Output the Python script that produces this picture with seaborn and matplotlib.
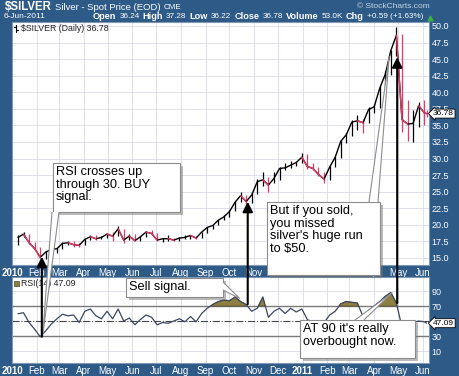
import numpy as np
import pandas as pd
import seaborn as sns
import matplotlib.pyplot as plt
import matplotlib.dates as mdates
import matplotlib.patheffects as pe
from matplotlib.patches import Rectangle, Polygon

sns.set_theme(style='white')
plt.rcParams['font.family'] = ['Liberation Sans', 'DejaVu Sans']

# weekly bars (Fridays) + last session
week_end = pd.date_range('2010-01-08', periods=74, freq='7D').append(pd.DatetimeIndex(['2011-06-06']))
close = [18.1, 18.6, 17.3, 16.4, 15.1, 15.9, 16.3, 16.4, 17.2, 17.3,
         17.0, 16.9, 17.8, 18.2, 17.9, 18.1, 18.6, 18.3, 19.4, 17.7,
         18.3, 17.6, 18.2, 18.9, 18.7, 17.7, 17.9, 17.9, 17.7, 18.0,
         18.1, 18.4, 18.0, 18.9, 19.6, 19.9, 20.7, 21.2, 22.0, 23.4,
         24.4, 23.5, 24.5, 26.5, 26.8, 26.0, 27.0, 28.5, 28.6, 29.0,
         29.4, 30.2, 28.8, 28.5, 27.6, 26.9, 28.7, 30.2, 32.6, 33.6,
         35.5, 35.7, 35.4, 37.4, 37.8, 40.6, 42.7, 46.3, 48.6, 35.9,
         35.2, 35.3, 38.0, 36.9, 36.78]
high = [18.4, 18.9, 18.6, 17.4, 16.6, 16.0, 16.5, 16.5, 17.4, 17.6,
        17.6, 17.2, 17.9, 18.4, 18.5, 18.3, 18.7, 18.9, 19.8, 19.3,
        18.6, 18.6, 18.3, 19.0, 19.2, 18.8, 18.0, 18.5, 18.0, 18.1,
        18.4, 18.5, 18.3, 18.9, 19.7, 20.0, 20.8, 21.5, 22.2, 23.6,
        24.9, 24.5, 24.9, 26.9, 28.0, 27.2, 28.0, 28.8, 29.3, 29.6,
        29.5, 30.9, 30.7, 29.3, 28.8, 28.0, 28.9, 30.4, 32.8, 33.9,
        35.8, 36.5, 36.0, 37.8, 38.2, 40.9, 43.2, 46.4, 49.8, 48.8,
        38.9, 37.3, 38.6, 38.9, 37.28]
low = [17.0, 18.1, 17.1, 16.2, 15.0, 14.9, 15.7, 15.8, 16.3, 17.0,
       16.7, 16.7, 16.9, 17.7, 17.7, 17.8, 18.0, 17.6, 18.3, 17.3,
       17.7, 17.5, 17.6, 18.1, 18.5, 17.6, 17.4, 17.6, 17.5, 17.6,
       17.9, 17.9, 17.9, 18.0, 18.8, 19.4, 19.9, 20.7, 21.2, 22.1,
       23.4, 23.0, 23.3, 24.6, 25.8, 25.0, 26.3, 26.8, 28.2, 28.5,
       28.9, 29.3, 28.4, 28.2, 27.4, 26.3, 26.8, 28.8, 30.1, 32.3,
       33.4, 34.3, 33.8, 35.4, 36.8, 37.6, 40.4, 42.6, 45.4, 34.0,
       32.6, 32.5, 34.8, 35.1, 36.22]
rsi = [59.7, 61, 48, 39, 29, 37, 46, 53, 59, 57,
       58, 48, 63, 66, 57, 53, 63, 53, 66, 50,
       54, 45, 52, 58, 55, 45, 48, 47, 50, 53,
       49, 56, 49, 60, 67, 72, 76, 78, 77, 82,
       76, 72, 63, 67, 82, 55, 63, 67, 60, 67,
       62, 66, 52, 48, 50, 48, 58, 63, 73, 76,
       75, 74, 56, 64, 70, 76, 83, 88, 74, 42,
       46, 48, 50, 49, 47.09]

month_starts = pd.date_range('2010-01-01', '2011-06-01', freq='MS')
month_labels = [str(d.year) if d.month == 1 else d.strftime('%b') for d in month_starts]
price_ticks = np.arange(15, 50.1, 2.5)
rsi_ticks = [10, 30, 70, 90]

# arrows: date, price at head, rsi at tail
arrow_dates = pd.to_datetime(['2010-02-07', '2010-10-24', '2011-04-30'])
arrow_price = [15.2, 23.5, 45.3]
arrow_rsi = [29, 72.5, 74]

bg = '#2d5a87'
red = '#e23c66'
olive = '#8f8042'
gridc = '#dadbe8'
W, H = 460, 376

fig = plt.figure(figsize=(4.6, 3.76), dpi=100, facecolor=bg)
ax = fig.add_axes([12 / W, 1 - 265 / H, 417 / W, 243 / H])
ax2 = fig.add_axes([12 / W, 1 - 363 / H, 417 / W, 86 / H])

# price bars
for i in range(len(close)):
    col = 'black' if i == 0 or close[i] >= close[i - 1] else red
    ax.vlines(week_end[i], low[i], high[i], color=col, lw=0.9)
sns.lineplot(x=week_end, y=close, color='black', lw=1.0, ax=ax)
for i in range(1, len(close)):
    if close[i] < close[i - 1]:
        ax.plot(week_end[i - 1:i + 1], close[i - 1:i + 1], color=red, lw=1.0)

# rsi
rsi_arr = np.array(rsi)
ax2.fill_between(week_end, rsi_arr, 70, where=rsi_arr > 70, interpolate=True,
                 facecolor=olive, edgecolor='#4e4620', lw=0.5, zorder=2)
ax2.axhline(70, color='#7a7a7a', lw=1.0, zorder=1)
ax2.axhline(30, color='#7a7a7a', lw=1.0, zorder=1)
ax2.axhline(50, color='#444444', lw=0.8, ls='-.', zorder=1)
sns.lineplot(x=week_end, y=rsi, color='#3c4660', lw=0.9, ax=ax2, zorder=3)

xl = (mdates.date2num(pd.Timestamp('2009-12-31 12:00')), mdates.date2num(pd.Timestamp('2011-06-09')))
for a in (ax, ax2):
    a.set_facecolor('white')
    a.set_xlim(xl)
    a.set(xlabel='', ylabel='')
    a.set_xticks(month_starts)
    a.set_xticklabels(month_labels)
    for t in a.get_xticklabels():
        if t.get_text().isdigit():
            t.set_fontweight('bold')
    a.yaxis.tick_right()
    a.tick_params(colors='white', labelsize=6.5, length=0, pad=2)
    a.tick_params(axis='x', labelsize=7, pad=2)
    a.grid(True, color=gridc, lw=0.6)
    a.set_axisbelow(True)
    for s in a.spines.values():
        s.set_color('#8098b4')
        s.set_linewidth(0.8)

ax.set_ylim(13.94, 50.6)
ax.set_yticks(price_ticks)
ax.set_yticklabels([f'{v:.1f}' for v in price_ticks])
ax2.set_ylim(-6, 108.7)
ax2.set_yticks(rsi_ticks)

# last value tags
ax.annotate(f'{close[-1]:.2f}', xy=(1.0, close[-1]), xycoords=('axes fraction', 'data'),
            xytext=(3, 0), textcoords='offset points', ha='left', va='center', fontsize=6,
            color='black', annotation_clip=False,
            bbox=dict(boxstyle='larrow,pad=0.12', fc='white', ec='black', lw=0.6))
ax2.annotate(f'{rsi[-1]:.2f}', xy=(1.0, rsi[-1]), xycoords=('axes fraction', 'data'),
             xytext=(3, 0), textcoords='offset points', ha='left', va='center', fontsize=6,
             color='black', annotation_clip=False,
             bbox=dict(boxstyle='larrow,pad=0.12', fc='white', ec='black', lw=0.6))

# header
renderer = fig.canvas.get_renderer()


def row(x, y, pieces, color='white'):
    texts = []
    for txt, size, weight in pieces:
        t = fig.text(x / W, 1 - y / H, txt, fontsize=size, fontweight=weight,
                     color=color, va='center', ha='left')
        x = t.get_window_extent(renderer).x1 + 3
        texts.append(t)
    return texts


row(5, 7.5, [(r'\$SILVER', 8.3, 'bold'), ('Silver - Spot Price (EOD)', 6.8, 'normal'),
             ('CME', 5.8, 'normal')])
row(4, 17, [('6-Jun-2011', 6, 'normal')])
pieces = [('Open', 6.6, 'bold'), ('36.24', 5.9, 'normal'), ('High', 6.6, 'bold'),
          ('37.28', 5.9, 'normal'), ('Low', 6.6, 'bold'), ('36.22', 5.9, 'normal'),
          ('Close', 6.6, 'bold'), ('36.78', 5.9, 'normal'), ('Volume', 6.6, 'bold'),
          ('53.0K', 5.9, 'normal'), ('Chg', 6.6, 'bold'), ('+0.59 (+1.63%)', 5.9, 'normal')]
texts = row(0, 16.5, pieces)
shift = (423 - texts[-1].get_window_extent(renderer).x1) / W
for t in texts:
    t.set_x(t.get_position()[0] + shift)
fig.text(430 / W, 1 - 7 / H, '© StockCharts.com', fontsize=6, color='#c9d5e2', ha='right', va='center')

# overlay for callouts
ov = fig.add_axes([0, 0, 1, 1], zorder=10)
ov.set_xlim(0, W)
ov.set_ylim(H, 0)
ov.axis('off')
ov.patch.set_alpha(0)


def to_px(a, d, v):
    px = a.transData.transform((mdates.date2num(pd.Timestamp(d)), v))
    return px[0], H - px[1]


ov.plot([430], [17.5], marker='^', color='#3cb043', ms=3.5)
ov.plot([16, 16], [25, 31.5], color='black', lw=0.8)
ov.plot([14, 16], [27, 27], color='black', lw=0.8)
ov.plot([16, 18], [29.5, 29.5], color='black', lw=0.8)
ov.text(21, 28.5, r'\$SILVER (Daily) 36.78', fontsize=6.3, color='#222222', va='center')
ov.add_patch(Rectangle((14, 281), 5, 5, fc=olive, ec='#4e4620', lw=0.5))
ov.text(21, 283.5, 'RSI(14) 47.09', fontsize=6.3, color='#222222', va='center')

shadow = [pe.SimplePatchShadow(offset=(2, -2), shadow_rgbFace='#777777', alpha=0.5), pe.Normal()]
callouts = [
    ((53, 163, 127, 49), [(52, 212), (59, 212)], to_px(ax2, '2010-02-08', 30),
     'RSI crosses up\nthrough 30. BUY\nsignal.'),
    ((267, 202, 113, 73), [(369, 202), (378, 202)], to_px(ax, '2011-04-20', 45.5),
     "But if you sold,\nyou missed\nsilver's huge run\nto \\$50."),
    ((126, 278, 97, 19), [(223, 282), (223, 290)], to_px(ax2, '2010-10-14', 80),
     'Sell signal.'),
    ((300, 320, 115, 38), [(355, 320), (364, 320)], to_px(ax2, '2011-04-24', 88),
     "AT 90 it's really\noverbought now."),
]
for (x0, y0, w, h), base, tip, txt in callouts:
    r = Rectangle((x0, y0), w, h, fc='white', ec='#8c8c8c', lw=0.8, zorder=5)
    r.set_path_effects(shadow)
    ov.add_patch(r)
    ov.add_patch(Polygon([base[0], tip, base[1]], closed=False, fc='white', ec='#8c8c8c',
                         lw=0.8, zorder=6))
    ov.text(x0 + 3, y0 + 3, txt, fontsize=9.2, color='black', va='top', ha='left',
            linespacing=1.08, zorder=7)

for d, p, r_ in zip(arrow_dates, arrow_price, arrow_rsi):
    head = to_px(ax, d, p)
    tail = to_px(ax2, d, r_)
    ov.annotate('', xy=head, xytext=tail,
                arrowprops=dict(arrowstyle='-|>,head_length=0.6,head_width=0.3',
                                color='black', lw=1.5, shrinkA=0, shrinkB=0,
                                mutation_scale=10), zorder=8)

fig.savefig('out.png', dpi=100, facecolor=bg)
